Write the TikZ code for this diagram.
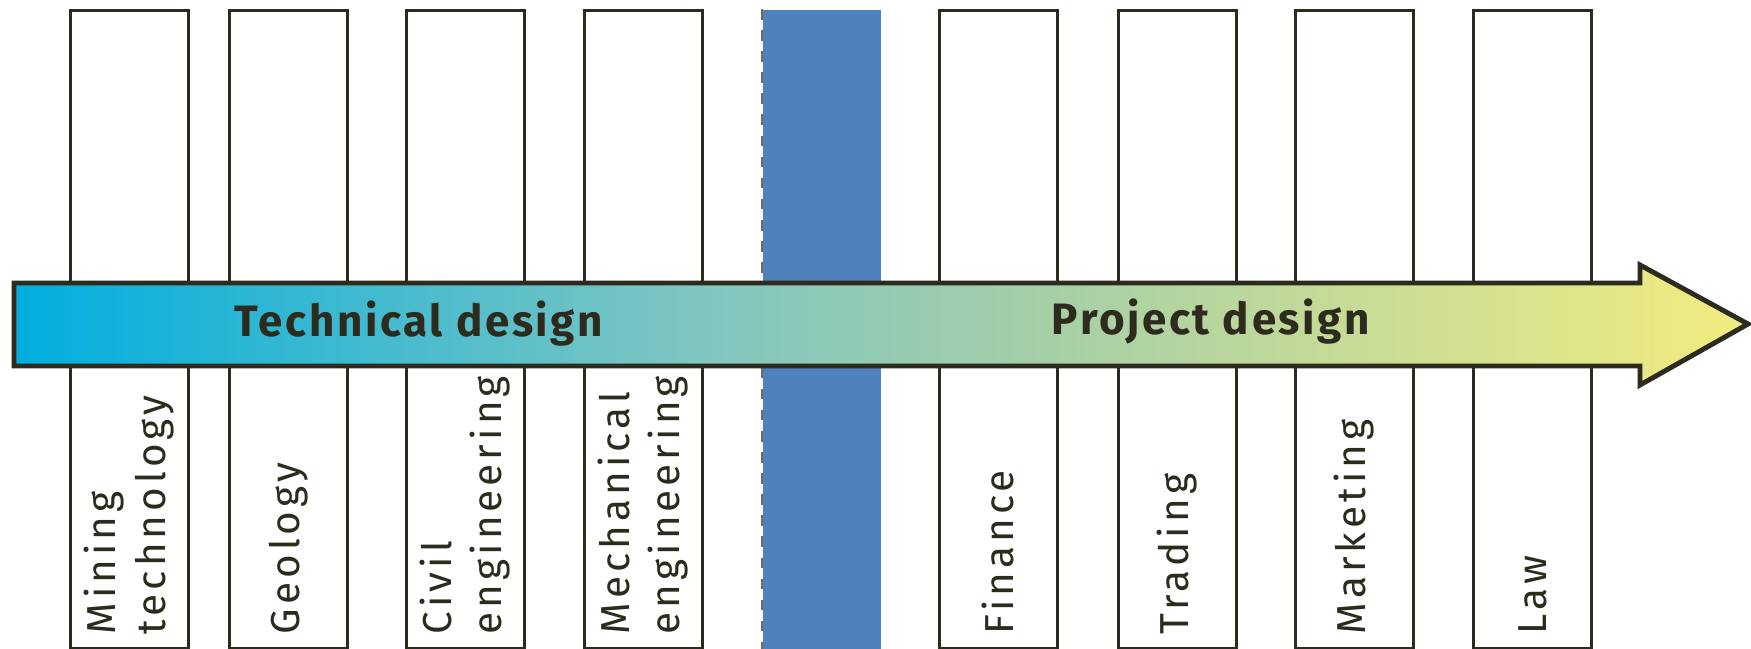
\documentclass[tikz,border=0pt]{standalone}
\usepackage{fontspec}
\setmainfont{Fira Sans}
\newfontfamily\lblfont[LetterSpace=10]{Fira Sans}
\newfontfamily\ttlfont[LetterSpace=6]{Fira Sans}
\usetikzlibrary{calc}
\definecolor{ink}{HTML}{2D2A1E}
\definecolor{barblue}{HTML}{4F81BD}
\definecolor{shadeA}{HTML}{00AEDF}
\definecolor{shadeB}{HTML}{80C6C0}
\definecolor{shadeC}{HTML}{A0CDAA}
\definecolor{shadeD}{HTML}{F2EC80}
% left-to-right fill of the process arrow (path spans 25bp..75bp)
\pgfdeclarehorizontalshading{procshade}{100bp}{%
  color(0bp)=(shadeA); color(25bp)=(shadeA); color(44.8bp)=(shadeB);
  color(53.4bp)=(shadeC); color(75bp)=(shadeD); color(100bp)=(shadeD)}
\begin{document}
\begin{tikzpicture}[x=0.01cm,y=-0.01cm,
  column/.style={draw=ink, line width=0.75pt, fill=white, anchor=north west,
    minimum width=1.18cm, minimum height=6.38cm, inner sep=0pt},
  hilite/.style={column, fill=barblue, draw=none},
  lbl/.style={rotate=90, anchor=west, inner sep=0pt, text=ink, align=left,
    font=\lblfont\fontsize{11.5}{14.2}\selectfont},
  ttl/.style={anchor=base, inner sep=0pt, text=ink,
    font=\ttlfont\bfseries\fontsize{12.5}{15}\selectfont}]
\useasboundingbox (0,0) rectangle (1751,649);

% discipline columns
\node[column] (c1) at (69,9) {};
\node[column] (c2) at (228,9) {};
\node[column] (c3) at (405,9) {};
\node[column] (c4) at (583,9) {};
\node[hilite] (c5) at (762,9) {};
\node[column] (c6) at (938,9) {};
\node[column] (c7) at (1117,9) {};
\node[column] (c8) at (1294,9) {};
\node[column] (c9) at (1472,9) {};
\draw[ink!70, line width=0.3pt, dashed] (c5.north west) -- (c5.south west);

% column labels, reading upwards from the bottom
\node[lbl] at ($(c1.south)+(0,-15)$) {Mining\\technology};
\node[lbl] at ($(c2.south)+(0,-15)$) {Geology};
\node[lbl] at ($(c3.south)+(0,-15)$) {Civil\\engineering};
\node[lbl] at ($(c4.south)+(0,-15)$) {Mechanical\\engineering};
\node[lbl] at ($(c6.south)+(0,-15)$) {Finance};
\node[lbl] at ($(c7.south)+(0,-15)$) {Trading};
\node[lbl] at ($(c8.south)+(0,-15)$) {Marketing};
\node[lbl] at ($(c9.south)+(0,-15)$) {Law};

% the shaded process arrow across the columns
\path[draw=ink, line width=1.4pt, line join=miter, shading=procshade]
  (14,283) -- (1640,283) -- (1640,265) -- (1748,324) -- (1640,385)
  -- (1640,366) -- (14,366) -- cycle;

\node[ttl] (tech) at (419,337) {Technical design};
\node[ttl] (proj) at (1211,335) {Project design};
\end{tikzpicture}
\end{document}
